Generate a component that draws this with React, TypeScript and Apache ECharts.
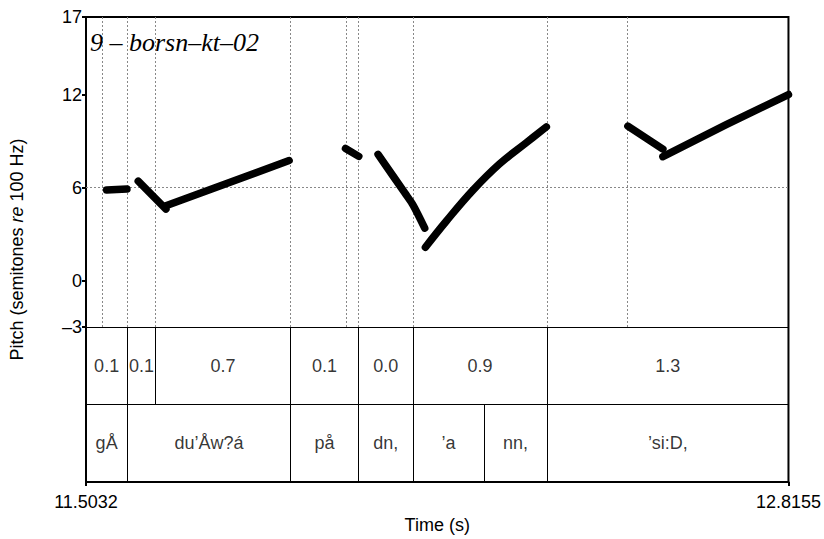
import React, { useEffect, useRef } from "react";
import * as echarts from "echarts";

const TMIN = 11.5032;
const TMAX = 12.8155;
const yTickValues = [17, 12, 6, 0, -3];

// pitch contour segments [time (s), semitones re 100 Hz]
const seg1 = [[11.5418, 5.84], [11.5797, 5.9]];
const seg2 = [[11.6008, 6.41], [11.6525, 4.61]];
const seg3 = [[11.6525, 4.83], [11.8827, 7.74]];
const seg4 = [[11.988, 8.52], [12.0128, 8.01]];
const seg5 = [[12.0488, 8.14], [12.0988, 5.65], [12.1142, 4.87], [12.136, 3.38]];
const seg6 = [[12.1373, 2.15], [12.1765, 3.84], [12.2262, 5.83], [12.276, 7.53], [12.3259, 8.9], [12.3632, 9.91]];
const seg7 = [[12.5155, 9.96], [12.5809, 8.47]];
const seg8 = [[12.5809, 7.99], [12.6992, 10.06], [12.8155, 12.0]];
const segments = [seg1, seg2, seg3, seg4, seg5, seg6, seg7, seg8];
const smoothing = [0, 0, 0, 0, 0.3, 0.4, 0, 0];

// dotted vertical guide times
const gridTimes = [11.5344, 11.5803, 11.6333, 11.8853, 11.9899, 12.0123, 12.1142, 12.3647, 12.514];
const dottedLevel = 6;

// tiers
const tier1Bounds = [11.5032, 11.5803, 11.6333, 11.8853, 12.0123, 12.1142, 12.3647, 12.8155];
const tier1Labels = ["0.1", "0.1", "0.7", "0.1", "0.0", "0.9", "1.3"];
const tier2Bounds = [11.5032, 11.5803, 11.8853, 12.0123, 12.1142, 12.2467, 12.3647, 12.8155];
const tier2Labels = ["gÅ", "du\u2019Åw?á", "på", "dn,", "\u2019a", "nn,", "\u2019si:D,"];

const PITCH_BOTTOM = -3;
const TIER_SPLIT = -8;
const TIER_BOTTOM = -13;
const PITCH_TOP = 17;

const FONT = "'Liberation Sans', Arial, Helvetica, sans-serif";

export default function App() {
  const ref = useRef<HTMLDivElement>(null);
  useEffect(() => {
    if (!ref.current) return;
    const chart = echarts.init(ref.current, undefined, { renderer: "svg" });

    const tierLabelData: any[] = [];
    tier1Labels.forEach((t, i) => {
      tierLabelData.push({ name: t, value: [(tier1Bounds[i] + tier1Bounds[i + 1]) / 2, (PITCH_BOTTOM + TIER_SPLIT) / 2] });
    });
    tier2Labels.forEach((t, i) => {
      tierLabelData.push({ name: t, value: [(tier2Bounds[i] + tier2Bounds[i + 1]) / 2, (TIER_SPLIT + TIER_BOTTOM) / 2] });
    });

    const dotted: any[] = gridTimes.map((t) => [{ coord: [t, PITCH_TOP] }, { coord: [t, PITCH_BOTTOM] }]);
    dotted.push([{ coord: [TMIN, dottedLevel] }, { coord: [TMAX, dottedLevel] }]);

    const solid: any[] = [];
    tier1Bounds.slice(1, -1).forEach((t) => solid.push([{ coord: [t, PITCH_BOTTOM] }, { coord: [t, TIER_SPLIT] }]));
    tier2Bounds.slice(1, -1).forEach((t) => solid.push([{ coord: [t, TIER_SPLIT] }, { coord: [t, TIER_BOTTOM] }]));
    solid.push([{ coord: [TMIN, PITCH_BOTTOM] }, { coord: [TMAX, PITCH_BOTTOM] }]);
    solid.push([{ coord: [TMIN, TIER_SPLIT] }, { coord: [TMAX, TIER_SPLIT] }]);

    const pitchSeries = segments.map((seg, i) => ({
      type: "line",
      name: "pitch" + i,
      data: seg,
      showSymbol: false,
      symbol: "none",
      smooth: smoothing[i] || false,
      lineStyle: { color: "#000", width: 7.5, cap: "round", join: "round" },
      z: 5,
    }));

    chart.setOption({
      animation: false,
      title: {
        text: "9 \u2013 borsn\u2013kt\u201302",
        left: 85,
        top: 24,
        textStyle: { fontFamily: "'Liberation Serif', 'Times New Roman', serif", fontStyle: "italic", fontWeight: "normal", fontSize: 26, color: "#000" },
      },
      grid: { left: 86, right: 35, top: 17, bottom: 49, show: true, borderColor: "#000", borderWidth: 2 },
      xAxis: {
        type: "value",
        min: TMIN,
        max: TMAX,
        splitLine: { show: false },
        axisLine: { show: true, onZero: false, lineStyle: { color: "#000", width: 2 } },
        axisTick: { show: true, customValues: [TMIN, TMAX], length: 4, lineStyle: { color: "#000", width: 2 } },
        axisLabel: { customValues: [TMIN, TMAX], formatter: (v: number) => v.toFixed(4), fontSize: 18, color: "#000", fontFamily: FONT, margin: 11 },
        name: "Time (s)",
        nameLocation: "middle",
        nameGap: 22,
        nameTextStyle: { fontSize: 18, color: "#000", fontFamily: FONT },
      },
      yAxis: {
        type: "value",
        min: TIER_BOTTOM,
        max: PITCH_TOP,
        splitLine: { show: false },
        axisLine: { show: true, onZero: false, lineStyle: { color: "#000", width: 2 } },
        axisTick: { show: true, customValues: yTickValues, length: 4, lineStyle: { color: "#000", width: 2 } },
        axisLabel: {
          customValues: yTickValues,
          formatter: (v: number) => (v < 0 ? "\u2013" + Math.abs(v) : String(v)),
          fontSize: 18,
          color: "#000",
          fontFamily: FONT,
          margin: 4,
        },
        name: "Pitch (semitones {i|re} 100 Hz)",
        nameLocation: "middle",
        nameGap: 60,
        nameTextStyle: { fontSize: 18, color: "#000", fontFamily: FONT, rich: { i: { fontStyle: "italic", fontSize: 18, fontFamily: FONT, color: "#000" } } },
      },
      series: [
        {
          type: "scatter",
          name: "tiers",
          data: tierLabelData,
          symbolSize: 1,
          itemStyle: { color: "transparent" },
          label: { show: true, position: "inside", formatter: "{b}", fontSize: 18, color: "#000", fontFamily: FONT },
          silent: true,
          z: 3,
          markLine: {
            silent: true,
            symbol: ["none", "none"],
            label: { show: false },
            lineStyle: { color: "#000", width: 1, type: "solid" },
            data: solid,
          },
        },
        {
          type: "line",
          name: "guides",
          data: [],
          z: 1,
          markLine: {
            silent: true,
            symbol: ["none", "none"],
            label: { show: false },
            lineStyle: { color: "#888", width: 1, type: [2, 2] },
            data: dotted,
          },
        },
        ...pitchSeries,
      ],
    });
    return () => chart.dispose();
  }, []);
  return <div ref={ref} style={{ width: 824, height: 539, position: "absolute", left: 0, top: 0 }} />;
}
